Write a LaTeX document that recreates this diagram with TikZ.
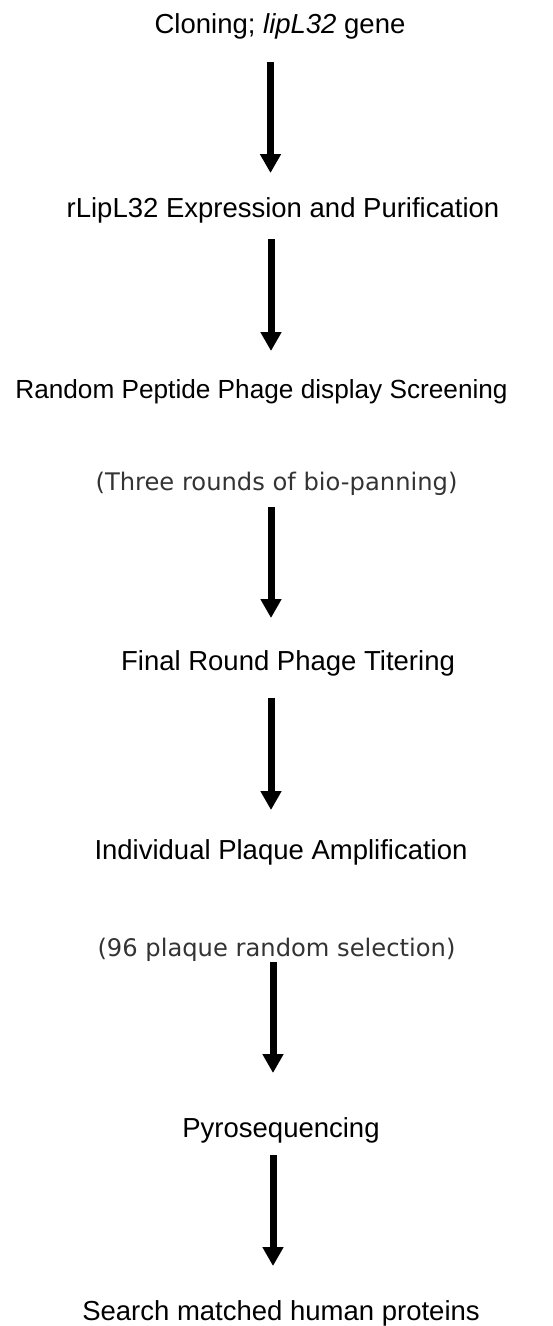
\documentclass[tikz,border=0pt]{standalone}
\usepackage{fontspec}
\setmainfont{Liberation Sans}
\newfontfamily\parenfont{DejaVu Sans}
\usetikzlibrary{arrows.meta}
\begin{document}
\begin{tikzpicture}[x=1pt,y=-1pt,
  steptext/.style={anchor=base,inner sep=0pt,font=\fontsize{27.5}{32}\selectfont},
  notetext/.style={anchor=base,inner sep=0pt,text=black!80,font=\parenfont\fontsize{24.2}{28}\selectfont},
  flowarrow/.style={line width=7pt,-{Triangle[width=20pt,length=19pt]}}]
\useasboundingbox (0,0) rectangle (552,1326);
\node[steptext] (clon) at (280,33) {Cloning; \textit{lipL32} gene};
\node[steptext] (expr) at (283,217) {rLipL32 Expression and Purification};
\node[steptext,font=\fontsize{26.2}{30}\selectfont] (phag) at (261.5,398) {Random Peptide Phage display Screening};
\node[notetext] (pann) at (276.5,490) {(Three rounds of bio-panning)};
\node[steptext] (titr) at (288,670) {Final Round Phage Titering};
\node[steptext] (plaq) at (281,859) {Individual Plaque Amplification};
\node[notetext] (sele) at (276.5,956) {(96 plaque random selection)};
\node[steptext] (pyro) at (281,1137) {Pyrosequencing};
\node[steptext] (srch) at (281,1320) {Search matched human proteins};
\coordinate (a1s) at (270.5,62);  \coordinate (a1e) at (270.5,173);
\coordinate (a2s) at (271,239);   \coordinate (a2e) at (271,351);
\coordinate (a3s) at (271,507);   \coordinate (a3e) at (271,618);
\coordinate (a4s) at (271,698);   \coordinate (a4e) at (271,810);
\coordinate (a5s) at (273,962);   \coordinate (a5e) at (273,1073);
\coordinate (a6s) at (273,1155);  \coordinate (a6e) at (273,1266);
\draw[flowarrow] (a1s) -- (a1e);
\draw[flowarrow] (a2s) -- (a2e);
\draw[flowarrow] (a3s) -- (a3e);
\draw[flowarrow] (a4s) -- (a4e);
\draw[flowarrow] (a5s) -- (a5e);
\draw[flowarrow] (a6s) -- (a6e);
\end{tikzpicture}
\end{document}
